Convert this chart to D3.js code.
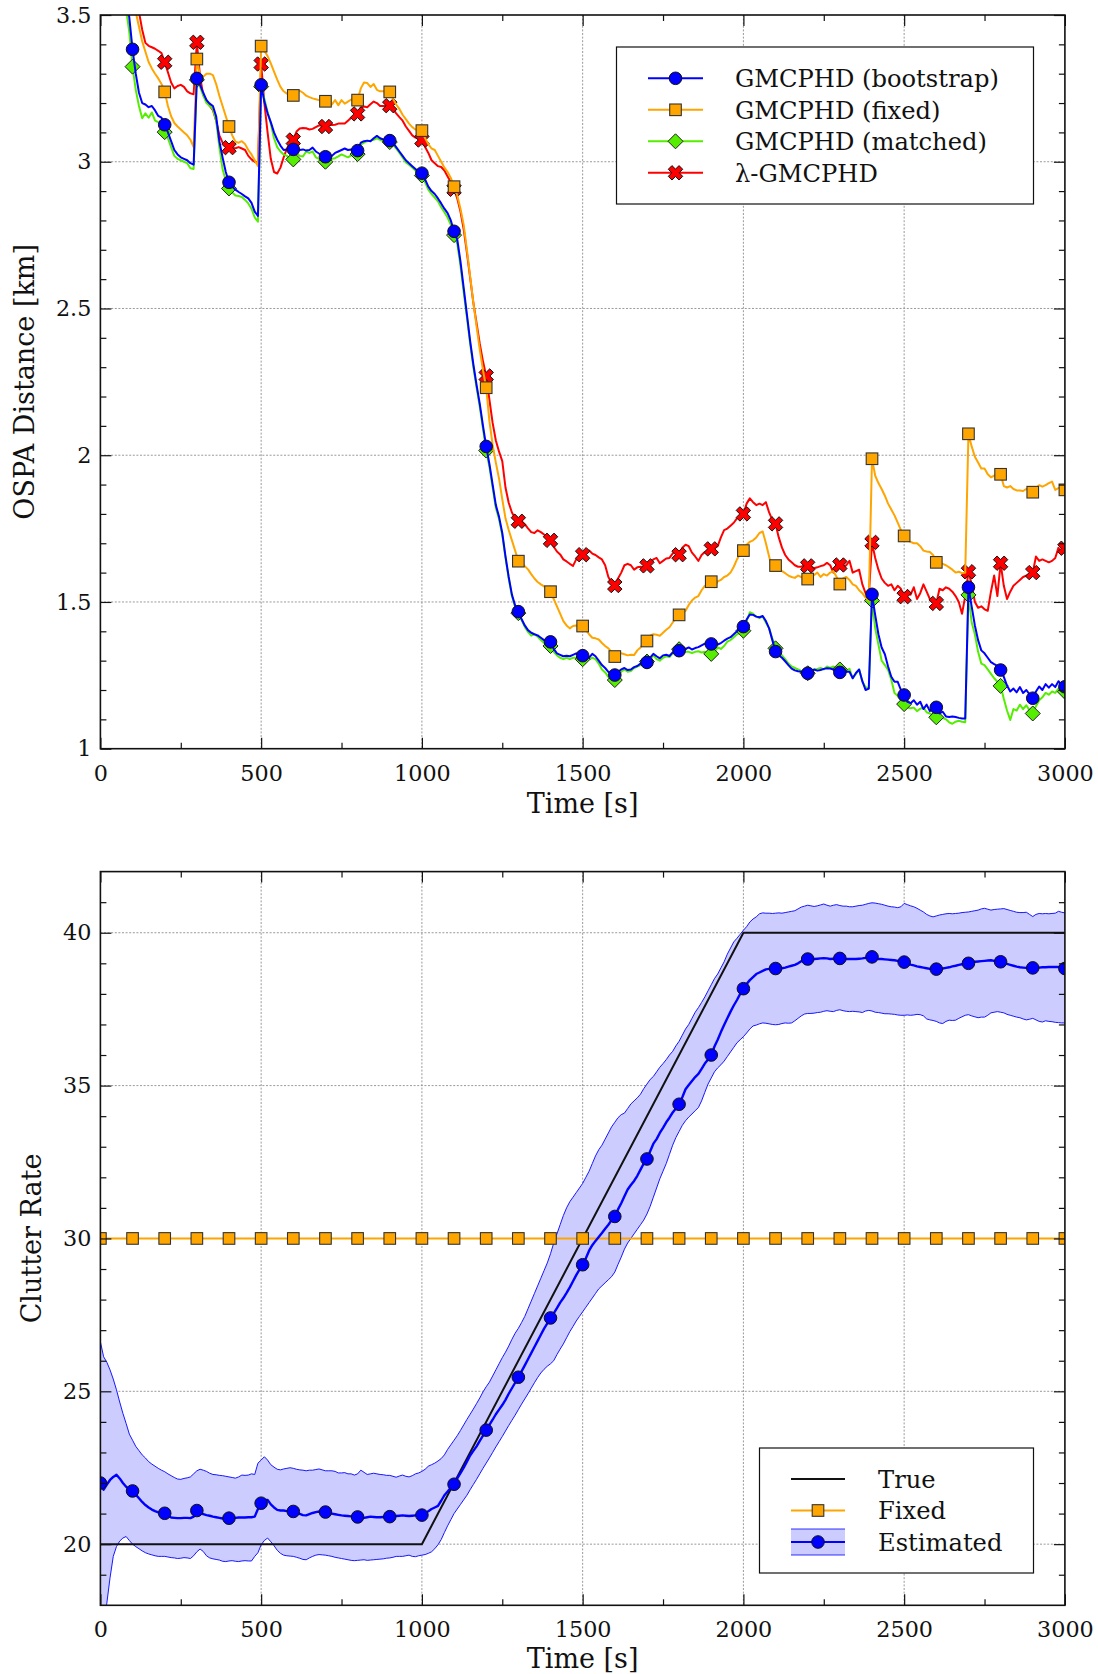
<!DOCTYPE html>
<html>
<head>
<meta charset="utf-8">
<script src="https://cdn.jsdelivr.net/npm/d3@7"></script>
<style>
  html, body { margin: 0; padding: 0; background: #fff; }
  svg { display: block; }
</style>
</head>
<body>
<svg id="chart" width="1098" height="1674"></svg>
<script>
// ---- time grid (s), one sample every 10 s; markers every 100 s ----
const times = d3.range(0, 3001, 10);
const xTickValues = [0, 500, 1000, 1500, 2000, 2500, 3000];

// ---- OSPA distance [km] ----
const ospaBootstrap = [
4.6,4.45,4.3,4.15,4.0,3.88,3.78,3.68,3.58,3.49,
3.383,3.30,3.235,3.20,3.195,3.186,3.19,3.175,3.156,3.15,
3.126,3.10,3.07,3.04,3.025,3.015,3.01,3.005,2.995,2.99,
3.284,3.262,3.235,3.21,3.198,3.19,3.155,3.07,3.015,2.965,
2.930,2.915,2.905,2.897,2.89,2.882,2.875,2.86,2.83,2.815,
3.262,3.205,3.165,3.135,3.10,3.075,3.055,3.04,3.042,3.04,
3.042,3.048,3.04,3.042,3.038,3.04,3.048,3.035,3.028,3.022,
3.017,3.012,3.02,3.03,3.035,3.04,3.045,3.04,3.042,3.04,
3.038,3.065,3.07,3.072,3.07,3.08,3.088,3.08,3.076,3.074,
3.072,3.065,3.05,3.035,3.02,3.005,2.995,2.985,2.975,2.968,
2.961,2.94,2.915,2.90,2.89,2.875,2.858,2.84,2.825,2.80,
2.763,2.735,2.66,2.57,2.48,2.39,2.31,2.24,2.175,2.10,
2.03,1.97,1.90,1.83,1.79,1.735,1.655,1.585,1.525,1.488,
1.467,1.442,1.42,1.404,1.395,1.39,1.386,1.378,1.37,1.366,
1.364,1.34,1.325,1.32,1.315,1.317,1.315,1.32,1.325,1.316,
1.317,1.31,1.31,1.323,1.315,1.30,1.285,1.275,1.262,1.255,
1.251,1.262,1.27,1.275,1.268,1.27,1.278,1.282,1.29,1.292,
1.294,1.31,1.323,1.315,1.308,1.318,1.32,1.316,1.328,1.33,
1.334,1.33,1.34,1.345,1.338,1.343,1.346,1.352,1.358,1.356,
1.357,1.353,1.355,1.36,1.368,1.375,1.38,1.39,1.40,1.41,
1.416,1.44,1.457,1.456,1.45,1.448,1.452,1.435,1.41,1.37,
1.331,1.318,1.31,1.298,1.285,1.273,1.267,1.264,1.262,1.259,
1.257,1.262,1.27,1.266,1.268,1.272,1.274,1.273,1.27,1.265,
1.26,1.257,1.262,1.262,1.24,1.258,1.27,1.23,1.20,1.205,
1.526,1.455,1.39,1.345,1.322,1.28,1.245,1.228,1.228,1.20,
1.183,1.16,1.155,1.165,1.15,1.16,1.135,1.15,1.128,1.14,
1.141,1.12,1.126,1.11,1.108,1.11,1.108,1.105,1.103,1.103,
1.55,1.485,1.42,1.37,1.335,1.325,1.31,1.295,1.288,1.282,
1.268,1.245,1.215,1.195,1.205,1.192,1.21,1.19,1.2,1.185,
1.172,1.195,1.212,1.2,1.22,1.208,1.22,1.21,1.23,1.215,
1.211];

const ospaFixed = [
5.0,4.8,4.6,4.4,4.2,4.05,3.9,3.78,3.68,3.6,
3.56,3.51,3.46,3.41,3.375,3.34,3.318,3.30,3.284,3.265,
3.238,3.19,3.155,3.132,3.12,3.11,3.10,3.09,3.075,3.05,
3.35,3.29,3.29,3.30,3.30,3.295,3.265,3.225,3.19,3.155,
3.12,3.09,3.068,3.065,3.07,3.06,3.04,3.025,3.005,2.985,
3.394,3.378,3.36,3.335,3.307,3.28,3.255,3.24,3.232,3.228,
3.226,3.24,3.242,3.235,3.225,3.22,3.216,3.213,3.21,3.208,
3.206,3.193,3.195,3.21,3.193,3.21,3.198,3.205,3.212,3.208,
3.21,3.25,3.27,3.268,3.255,3.265,3.245,3.24,3.24,3.238,
3.238,3.215,3.195,3.18,3.16,3.145,3.13,3.118,3.11,3.108,
3.106,3.08,3.06,3.045,3.04,3.02,3.0,2.98,2.965,2.945,
2.915,2.885,2.84,2.785,2.70,2.61,2.52,2.44,2.36,2.29,
2.23,2.116,2.035,1.975,1.92,1.85,1.785,1.745,1.71,1.675,
1.639,1.632,1.622,1.611,1.595,1.58,1.568,1.56,1.553,1.545,
1.535,1.51,1.485,1.46,1.435,1.42,1.41,1.418,1.42,1.418,
1.418,1.405,1.39,1.378,1.376,1.372,1.36,1.35,1.342,1.33,
1.314,1.33,1.325,1.322,1.318,1.32,1.319,1.335,1.345,1.358,
1.367,1.385,1.39,1.388,1.385,1.395,1.405,1.414,1.43,1.445,
1.456,1.462,1.47,1.49,1.505,1.515,1.52,1.54,1.555,1.56,
1.569,1.55,1.57,1.575,1.585,1.59,1.60,1.62,1.645,1.665,
1.675,1.695,1.705,1.71,1.72,1.735,1.74,1.70,1.655,1.61,
1.624,1.61,1.605,1.598,1.59,1.585,1.582,1.59,1.585,1.58,
1.578,1.585,1.592,1.60,1.585,1.595,1.59,1.60,1.605,1.585,
1.561,1.58,1.585,1.575,1.56,1.555,1.54,1.53,1.515,1.505,
1.988,1.93,1.905,1.885,1.862,1.835,1.815,1.795,1.77,1.745,
1.725,1.71,1.705,1.70,1.70,1.69,1.675,1.672,1.67,1.66,
1.635,1.635,1.63,1.625,1.618,1.61,1.60,1.603,1.598,1.60,
2.073,2.03,1.995,1.975,1.955,1.955,1.935,1.925,1.93,1.935,
1.935,1.895,1.89,1.895,1.885,1.88,1.88,1.878,1.885,1.88,
1.874,1.888,1.898,1.893,1.898,1.905,1.91,1.882,1.888,1.89,
1.882];

const ospaMatched = [
4.5,4.35,4.2,4.05,3.92,3.8,3.7,3.6,3.52,3.44,
3.324,3.245,3.19,3.148,3.165,3.15,3.168,3.14,3.135,3.12,
3.101,3.08,3.05,3.02,3.01,3.005,3.0,2.995,2.978,2.975,
3.279,3.255,3.225,3.2,3.19,3.18,3.14,3.05,2.975,2.935,
2.909,2.895,2.885,2.883,2.88,2.87,2.858,2.84,2.81,2.796,
3.256,3.215,3.17,3.13,3.08,3.05,3.035,3.025,3.02,3.012,
3.008,3.03,3.02,3.018,3.035,3.03,3.035,3.015,3.01,3.005,
3.0,3.005,3.01,3.012,3.018,3.025,3.02,3.015,3.022,3.024,
3.026,3.058,3.065,3.07,3.072,3.075,3.08,3.075,3.07,3.068,
3.067,3.058,3.045,3.03,3.015,2.998,2.99,2.98,2.97,2.962,
2.953,2.93,2.905,2.89,2.878,2.865,2.845,2.828,2.81,2.785,
2.75,2.72,2.645,2.555,2.47,2.38,2.30,2.23,2.165,2.09,
2.016,1.96,1.89,1.82,1.782,1.728,1.65,1.58,1.52,1.483,
1.462,1.438,1.415,1.398,1.385,1.39,1.382,1.37,1.36,1.355,
1.35,1.33,1.318,1.31,1.305,1.31,1.305,1.31,1.31,1.305,
1.305,1.3,1.305,1.31,1.305,1.29,1.27,1.26,1.245,1.24,
1.234,1.25,1.262,1.27,1.262,1.265,1.275,1.28,1.285,1.29,
1.297,1.305,1.318,1.305,1.3,1.31,1.315,1.312,1.325,1.332,
1.339,1.325,1.33,1.33,1.326,1.33,1.332,1.328,1.33,1.325,
1.323,1.33,1.345,1.34,1.35,1.365,1.37,1.38,1.39,1.395,
1.402,1.435,1.465,1.46,1.45,1.445,1.45,1.43,1.41,1.375,
1.342,1.33,1.318,1.305,1.29,1.28,1.275,1.27,1.265,1.26,
1.257,1.265,1.27,1.272,1.275,1.27,1.28,1.275,1.28,1.272,
1.27,1.262,1.265,1.272,1.24,1.255,1.27,1.228,1.21,1.205,
1.505,1.41,1.355,1.30,1.285,1.268,1.235,1.19,1.18,1.165,
1.152,1.14,1.138,1.14,1.128,1.136,1.14,1.124,1.12,1.115,
1.107,1.1,1.105,1.1,1.09,1.085,1.092,1.095,1.092,1.09,
1.524,1.43,1.39,1.33,1.29,1.285,1.27,1.255,1.24,1.228,
1.214,1.17,1.13,1.098,1.135,1.13,1.15,1.135,1.148,1.13,
1.12,1.145,1.165,1.175,1.19,1.184,1.195,1.19,1.205,1.198,
1.194];

const ospaLambda = [
5.2,5.0,4.8,4.6,4.4,4.2,4.05,3.9,3.78,3.68,
3.62,3.56,3.51,3.45,3.405,3.395,3.39,3.385,3.378,3.37,
3.339,3.305,3.27,3.25,3.258,3.262,3.255,3.24,3.233,3.23,
3.407,3.29,3.227,3.21,3.19,3.176,3.14,3.09,3.065,3.055,
3.048,3.047,3.046,3.05,3.045,3.04,3.02,3.008,3.0,2.995,
3.333,3.20,3.10,3.01,2.965,2.96,2.98,3.015,3.045,3.062,
3.074,3.103,3.113,3.115,3.114,3.11,3.112,3.118,3.124,3.122,
3.12,3.124,3.125,3.126,3.13,3.13,3.13,3.14,3.15,3.157,
3.163,3.185,3.188,3.186,3.196,3.205,3.20,3.19,3.19,3.19,
3.191,3.18,3.165,3.152,3.14,3.12,3.105,3.09,3.082,3.078,
3.074,3.05,3.03,3.005,2.995,2.985,2.982,2.97,2.95,2.93,
2.906,2.875,2.83,2.77,2.69,2.605,2.52,2.45,2.38,2.32,
2.27,2.189,2.11,2.05,2.012,1.98,1.89,1.838,1.805,1.785,
1.775,1.775,1.765,1.751,1.738,1.735,1.744,1.738,1.73,1.72,
1.71,1.688,1.672,1.662,1.645,1.638,1.63,1.623,1.645,1.66,
1.661,1.672,1.675,1.665,1.66,1.652,1.645,1.625,1.585,1.565,
1.556,1.58,1.60,1.625,1.63,1.625,1.61,1.618,1.62,1.618,
1.623,1.635,1.645,1.65,1.632,1.64,1.648,1.65,1.665,1.675,
1.661,1.685,1.695,1.69,1.668,1.655,1.64,1.66,1.67,1.675,
1.681,1.683,1.69,1.72,1.745,1.75,1.76,1.77,1.785,1.79,
1.80,1.835,1.853,1.84,1.83,1.835,1.83,1.84,1.805,1.78,
1.766,1.72,1.685,1.66,1.645,1.635,1.625,1.62,1.62,1.625,
1.623,1.62,1.615,1.618,1.622,1.625,1.633,1.625,1.60,1.63,
1.626,1.62,1.625,1.64,1.60,1.605,1.61,1.56,1.53,1.52,
1.703,1.65,1.61,1.58,1.565,1.555,1.56,1.54,1.555,1.545,
1.518,1.54,1.525,1.55,1.51,1.53,1.56,1.535,1.51,1.50,
1.495,1.545,1.54,1.55,1.545,1.535,1.52,1.50,1.46,1.52,
1.603,1.56,1.50,1.48,1.485,1.475,1.47,1.535,1.59,1.52,
1.632,1.555,1.51,1.535,1.555,1.565,1.575,1.585,1.59,1.595,
1.60,1.655,1.64,1.645,1.64,1.635,1.64,1.65,1.685,1.665,
1.683];

// ---- clutter rate ----
const trueTimes = [0, 1000, 2000, 3000];
const trueRate = [20, 20, 40, 40];
const fixedTimes = d3.range(0, 3001, 100);
const fixedRate = [30,30,30,30,30,30,30,30,30,30,30,30,30,30,30,30,
                   30,30,30,30,30,30,30,30,30,30,30,30,30,30,30];

const meanRate = [
22.0,21.78,21.95,22.1,22.2,22.27,22.15,22.0,21.88,21.8,
21.74,21.62,21.5,21.38,21.28,21.2,21.13,21.08,21.04,21.02,
21.01,20.93,20.87,20.86,20.85,20.85,20.86,20.86,20.85,20.9,
21.1,21.05,20.98,20.95,20.93,20.9,20.88,20.86,20.84,20.84,
20.85,20.85,20.86,20.87,20.87,20.87,20.88,20.88,20.9,21.15,
21.34,21.45,21.45,21.3,21.2,21.12,21.1,21.1,21.08,21.07,
21.07,21.03,20.99,20.95,20.94,20.98,21.02,21.05,21.07,21.06,
21.05,21.02,21.0,20.98,20.96,20.94,20.93,20.92,20.91,20.9,
20.89,20.87,20.86,20.88,20.9,20.89,20.88,20.88,20.89,20.9,
20.9,20.91,20.92,20.93,20.94,20.93,20.92,20.93,20.94,20.95,
20.95,21.0,21.08,21.15,21.2,21.25,21.42,21.6,21.72,21.85,
21.96,22.15,22.32,22.5,22.7,22.9,23.05,23.2,23.38,23.55,
23.73,23.9,24.07,24.25,24.4,24.55,24.72,24.92,25.1,25.28,
25.46,25.65,25.85,26.05,26.25,26.45,26.65,26.85,27.05,27.22,
27.4,27.55,27.72,27.9,28.05,28.22,28.4,28.6,28.8,28.98,
29.14,29.35,29.6,29.78,29.92,30.05,30.18,30.32,30.45,30.6,
30.72,30.95,31.15,31.38,31.6,31.75,31.88,32.05,32.25,32.45,
32.6,32.85,33.1,33.25,33.45,33.62,33.8,33.95,34.12,34.25,
34.39,34.62,34.88,35.02,35.15,35.28,35.38,35.55,35.72,35.85,
36.0,36.28,36.5,36.75,36.98,37.2,37.42,37.62,37.8,38.0,
38.17,38.32,38.45,38.55,38.65,38.7,38.75,38.8,38.82,38.83,
38.83,38.84,38.84,38.86,38.89,38.92,38.95,39.0,39.07,39.12,
39.14,39.15,39.14,39.15,39.16,39.17,39.16,39.14,39.15,39.16,
39.16,39.15,39.14,39.14,39.14,39.14,39.15,39.16,39.18,39.2,
39.21,39.17,39.14,39.14,39.13,39.12,39.11,39.1,39.08,39.06,
39.04,39.0,38.96,38.93,38.9,38.88,38.86,38.84,38.82,38.81,
38.81,38.82,38.83,38.85,38.87,38.9,38.92,38.95,38.97,38.99,
39.0,39.03,39.05,39.06,39.07,39.08,39.09,39.1,39.08,39.07,
39.05,39.02,38.98,38.95,38.92,38.89,38.87,38.86,38.85,38.85,
38.85,38.86,38.86,38.87,38.87,38.88,38.88,38.88,38.88,38.86,
38.83];

const upperRate = [
26.62,26.13,25.95,25.7,25.4,25.05,24.65,24.28,23.95,23.6,
23.4,23.2,23.06,22.92,22.82,22.7,22.62,22.55,22.48,22.42,
22.37,22.3,22.24,22.18,22.13,22.12,22.15,22.17,22.2,22.3,
22.4,22.45,22.42,22.38,22.32,22.28,22.27,22.25,22.24,22.22,
22.2,22.18,22.16,22.2,22.26,22.25,22.26,22.3,22.28,22.65,
22.75,22.86,22.75,22.6,22.52,22.45,22.43,22.46,22.48,22.5,
22.48,22.45,22.43,22.42,22.4,22.42,22.42,22.44,22.46,22.43,
22.4,22.4,22.4,22.38,22.33,22.33,22.34,22.3,22.3,22.26,
22.3,22.42,22.35,22.28,22.3,22.32,22.3,22.28,22.27,22.25,
22.25,22.22,22.19,22.23,22.26,22.22,22.2,22.24,22.3,22.33,
22.38,22.45,22.55,22.6,22.65,22.72,22.8,22.92,23.1,23.25,
23.4,23.55,23.72,23.9,24.08,24.25,24.42,24.6,24.78,24.98,
25.15,25.3,25.5,25.7,25.9,26.1,26.28,26.48,26.7,26.9,
27.06,27.25,27.45,27.7,27.95,28.2,28.45,28.7,28.95,29.2,
29.5,29.85,30.15,30.45,30.75,31.0,31.2,31.35,31.5,31.65,
31.8,32.0,32.2,32.45,32.7,32.9,33.05,33.25,33.45,33.65,
33.8,33.95,34.05,34.1,34.25,34.4,34.5,34.6,34.72,34.9,
35.05,35.2,35.3,35.45,35.6,35.72,35.85,36.0,36.12,36.3,
36.45,36.65,36.85,37.0,37.2,37.4,37.55,37.72,37.9,38.1,
38.3,38.5,38.65,38.85,39.05,39.3,39.5,39.7,39.82,39.95,
40.08,40.2,40.35,40.45,40.52,40.62,40.65,40.64,40.64,40.63,
40.64,40.65,40.64,40.66,40.68,40.7,40.72,40.78,40.84,40.87,
40.9,40.88,40.86,40.88,40.91,40.94,40.9,40.87,40.9,40.92,
40.89,40.87,40.87,40.85,40.85,40.87,40.89,40.9,40.93,40.96,
40.98,40.97,40.95,40.93,40.9,40.87,40.85,40.84,40.82,40.85,
40.96,40.92,40.88,40.85,40.8,40.74,40.68,40.6,40.55,40.52,
40.55,40.58,40.6,40.62,40.63,40.62,40.63,40.64,40.66,40.67,
40.68,40.7,40.72,40.74,40.78,40.8,40.77,40.74,40.76,40.77,
40.78,40.79,40.76,40.73,40.7,40.67,40.66,40.66,40.67,40.6,
40.53,40.6,40.63,40.62,40.63,40.62,40.63,40.64,40.7,40.67,
40.65];

const lowerRate = [
16.5,17.3,18.07,18.9,19.6,19.92,20.1,20.2,20.25,20.12,
20.0,19.92,19.85,19.78,19.72,19.68,19.65,19.62,19.6,19.6,
19.6,19.58,19.56,19.55,19.53,19.54,19.56,19.55,19.53,19.62,
19.75,19.84,19.76,19.62,19.55,19.52,19.5,19.48,19.44,19.43,
19.45,19.46,19.44,19.43,19.45,19.46,19.45,19.45,19.6,19.72,
19.98,20.12,20.2,20.08,19.95,19.8,19.7,19.64,19.62,19.61,
19.6,19.57,19.54,19.5,19.49,19.55,19.6,19.64,19.66,19.65,
19.64,19.62,19.6,19.57,19.55,19.53,19.51,19.49,19.47,19.46,
19.47,19.48,19.49,19.47,19.48,19.49,19.5,19.51,19.52,19.54,
19.55,19.57,19.6,19.6,19.6,19.62,19.64,19.6,19.59,19.62,
19.64,19.66,19.7,19.75,19.85,19.98,20.15,20.38,20.6,20.8,
21.0,21.15,21.3,21.45,21.6,21.78,21.95,22.12,22.3,22.48,
22.65,22.82,23.0,23.18,23.35,23.52,23.7,23.88,24.05,24.22,
24.4,24.58,24.75,24.92,25.1,25.28,25.45,25.6,25.72,25.82,
25.9,26.0,26.2,26.38,26.55,26.75,26.95,27.12,27.3,27.45,
27.6,27.75,27.9,28.05,28.2,28.35,28.45,28.55,28.65,28.75,
28.9,29.15,29.39,29.65,29.85,30.0,30.15,30.3,30.45,30.6,
30.8,31.05,31.35,31.65,31.95,32.2,32.45,32.75,33.05,33.3,
33.5,33.7,33.85,33.97,34.07,34.18,34.28,34.5,34.78,35.05,
35.25,35.45,35.58,35.68,35.8,35.95,36.1,36.25,36.4,36.5,
36.6,36.72,36.85,36.95,36.98,37.02,37.05,37.04,37.02,37.0,
36.99,37.0,37.03,37.05,37.04,37.05,37.12,37.2,37.28,37.34,
37.36,37.36,37.37,37.39,37.4,37.43,37.45,37.43,37.42,37.46,
37.48,37.45,37.43,37.42,37.43,37.42,37.41,37.39,37.44,37.46,
37.44,37.4,37.39,37.37,37.35,37.35,37.34,37.33,37.31,37.3,
37.3,37.31,37.3,37.31,37.33,37.32,37.28,37.18,37.15,37.13,
37.1,37.05,37.03,37.1,37.14,37.13,37.14,37.2,37.25,37.3,
37.32,37.28,37.25,37.22,37.24,37.24,37.3,37.38,37.4,37.42,
37.4,37.38,37.33,37.3,37.27,37.24,37.22,37.18,37.15,37.17,
37.2,37.15,37.1,37.08,37.12,37.1,37.09,37.07,37.06,37.05,
37.05];

// ---- layout ----
const W = 1098, H = 1674;
const FONT = "'DejaVu Serif', 'Liberation Serif', serif";
const TICK_FONT = 22.3, LEGEND_FONT = 24.2, TITLE_FONT = 27;
const plotLeft = 100.4, plotRight = 1064.9;
const topPanel = { top: 15, bottom: 748.7 };
const botPanel = { top: 871.6, bottom: 1605.3 };

const COL = {
  blue: '#0000ff', orange: '#ffa500', green: '#55ee00', red: '#ff0000',
  band: '#ccccff', grid: '#9a9a9a'
};

const svg = d3.select('#chart');
svg.append('rect').attr('width', W).attr('height', H).attr('fill', '#fff');

const x = d3.scaleLinear().domain([0, 3000]).range([plotLeft, plotRight]);
const yOspa = d3.scaleLinear().domain([1, 3.5]).range([topPanel.bottom, topPanel.top]);
const yRate = d3.scaleLinear().domain([18, 42]).range([botPanel.bottom, botPanel.top]);

// ---- marker shapes ----
function xMarkPoints(L, w) {
  const pts = [[-w,-L],[w,-L],[w,-w],[L,-w],[L,w],[w,w],[w,L],[-w,L],[-w,w],[-L,w],[-L,-w],[-w,-w]];
  const c = Math.SQRT1_2;
  return pts.map(([a, b]) => [(a - b) * c, (a + b) * c].map(v => v.toFixed(2)).join(',')).join(' ');
}
function drawMarker(g, kind, cx, cy, fill) {
  if (kind === 'circle') {
    g.append('circle').attr('cx', cx).attr('cy', cy).attr('r', 6.3)
      .attr('fill', fill).attr('stroke', '#111').attr('stroke-width', 1);
  } else if (kind === 'square') {
    g.append('rect').attr('x', cx - 5.8).attr('y', cy - 5.8).attr('width', 11.6).attr('height', 11.6)
      .attr('fill', fill).attr('stroke', '#333').attr('stroke-width', 1.1);
  } else if (kind === 'diamond') {
    g.append('path').attr('d', `M${cx},${cy-7.5}L${cx+7.5},${cy}L${cx},${cy+7.5}L${cx-7.5},${cy}Z`)
      .attr('fill', fill).attr('stroke', '#222').attr('stroke-width', 1);
  } else if (kind === 'x') {
    g.append('polygon').attr('points', xMarkPoints(7.6, 2.6))
      .attr('transform', `translate(${cx},${cy})`)
      .attr('fill', fill).attr('stroke', '#111').attr('stroke-width', 1);
  }
}

// ---- grid and clip region ----
function drawGrid(panel, y, yMajor, clipId) {
  const g = svg.append('g');
  g.append('g').selectAll('line').data(xTickValues.slice(1, -1)).join('line')
    .attr('x1', d => x(d)).attr('x2', d => x(d))
    .attr('y1', panel.top).attr('y2', panel.bottom)
    .attr('stroke', COL.grid).attr('stroke-width', 1).attr('stroke-dasharray', '2,1.6');
  g.append('g').selectAll('line').data(yMajor.slice(1, -1)).join('line')
    .attr('x1', plotLeft).attr('x2', plotRight)
    .attr('y1', d => y(d)).attr('y2', d => y(d))
    .attr('stroke', COL.grid).attr('stroke-width', 1).attr('stroke-dasharray', '2,1.6');

  svg.append('defs').append('clipPath').attr('id', clipId)
    .append('rect').attr('x', plotLeft).attr('y', panel.top)
    .attr('width', plotRight - plotLeft).attr('height', panel.bottom - panel.top);
}

// ---- frame and inward ticks on all four sides ----
function drawAxes(panel, y, yMajor, yMinor, yFmt) {
  const g = svg.append('g');
  const style = sel => {
    sel.select('.domain').remove();
    sel.attr('font-family', FONT).attr('font-size', TICK_FONT);
    sel.selectAll('line').attr('stroke', '#111').attr('stroke-width', 1.2);
    sel.selectAll('text').attr('fill', '#111');
  };
  const xMinor = [250, 750, 1250, 1750, 2250, 2750];
  g.append('g').attr('transform', `translate(0,${panel.bottom})`)
    .call(d3.axisBottom(x).tickValues(xTickValues).tickSize(-11).tickPadding(16).tickFormat(d3.format('d'))).call(style);
  g.append('g').attr('transform', `translate(0,${panel.bottom})`)
    .call(d3.axisBottom(x).tickValues(xMinor).tickSize(-6).tickFormat('')).call(style);
  g.append('g').attr('transform', `translate(0,${panel.top})`)
    .call(d3.axisTop(x).tickValues(xTickValues).tickSize(-11).tickFormat('')).call(style);
  g.append('g').attr('transform', `translate(0,${panel.top})`)
    .call(d3.axisTop(x).tickValues(xMinor).tickSize(-6).tickFormat('')).call(style);
  g.append('g').attr('transform', `translate(${plotLeft},0)`)
    .call(d3.axisLeft(y).tickValues(yMajor).tickSize(-11).tickPadding(9).tickFormat(yFmt)).call(style);
  g.append('g').attr('transform', `translate(${plotLeft},0)`)
    .call(d3.axisLeft(y).tickValues(yMinor).tickSize(-6).tickFormat('')).call(style);
  g.append('g').attr('transform', `translate(${plotRight},0)`)
    .call(d3.axisRight(y).tickValues(yMajor).tickSize(-11).tickFormat('')).call(style);
  g.append('g').attr('transform', `translate(${plotRight},0)`)
    .call(d3.axisRight(y).tickValues(yMinor).tickSize(-6).tickFormat('')).call(style);
  g.append('rect').attr('x', plotLeft).attr('y', panel.top)
    .attr('width', plotRight - plotLeft).attr('height', panel.bottom - panel.top)
    .attr('fill', 'none').attr('stroke', '#111').attr('stroke-width', 1.6);
}

function axisTitles(panel, xTitleY, yTitleX, yTitle) {
  svg.append('text').attr('x', x(1500)).attr('y', xTitleY)
    .attr('text-anchor', 'middle').attr('font-family', FONT).attr('font-size', TITLE_FONT).attr('fill', '#111')
    .text('Time [s]');
  const cy = (panel.top + panel.bottom) / 2;
  svg.append('text').attr('transform', `translate(${yTitleX},${cy}) rotate(-90)`)
    .attr('text-anchor', 'middle').attr('font-family', FONT).attr('font-size', TITLE_FONT).attr('fill', '#111')
    .text(yTitle);
}

// ================= top panel: OSPA distance =================
const ospaMajor = [1, 1.5, 2, 2.5, 3, 3.5];
const ospaMinor = d3.range(11, 35).filter(v => v % 5 !== 0).map(v => v / 10);
drawGrid(topPanel, yOspa, ospaMajor, 'clipTop');

const ospaSeries = [
  { name: 'GMCPHD (bootstrap)', values: ospaBootstrap, color: COL.blue, marker: 'circle' },
  { name: 'GMCPHD (fixed)', values: ospaFixed, color: COL.orange, marker: 'square' },
  { name: 'GMCPHD (matched)', values: ospaMatched, color: COL.green, marker: 'diamond' },
  { name: 'λ-GMCPHD', values: ospaLambda, color: COL.red, marker: 'x' }
];

const topData = svg.append('g').attr('clip-path', 'url(#clipTop)');
const ospaLine = d3.line().x((d, i) => x(times[i])).y(d => yOspa(d));
ospaSeries.slice().reverse().forEach(s => {
  topData.append('path').datum(s.values).attr('d', ospaLine)
    .attr('fill', 'none').attr('stroke', s.color).attr('stroke-width', 2).attr('stroke-linejoin', 'round');
  const mg = topData.append('g');
  s.values.forEach((v, i) => {
    if (i % 10 === 0) drawMarker(mg, s.marker, x(times[i]), yOspa(v), s.color);
  });
});

drawAxes(topPanel, yOspa, ospaMajor, ospaMinor, d3.format('~g'));
axisTitles(topPanel, 813, 34, 'OSPA Distance [km]');

// legend (top)
const lg1 = svg.append('g');
lg1.append('rect').attr('x', 616.5).attr('y', 47).attr('width', 417).attr('height', 157)
  .attr('fill', '#fff').attr('stroke', '#111').attr('stroke-width', 1.2);
ospaSeries.forEach((s, i) => {
  const cy = 78.3 + i * 31.5;
  lg1.append('line').attr('x1', 648).attr('x2', 703).attr('y1', cy).attr('y2', cy)
    .attr('stroke', s.color).attr('stroke-width', 2);
  drawMarker(lg1, s.marker, 675.5, cy, s.color);
  lg1.append('text').attr('x', 735).attr('y', cy + 8.8)
    .attr('font-family', FONT).attr('font-size', LEGEND_FONT).attr('fill', '#111').text(s.name);
});

// ================= bottom panel: clutter rate =================
const rateMajor = [20, 25, 30, 35, 40];
const rateMinor = d3.range(19, 42).filter(v => v % 5 !== 0);
drawGrid(botPanel, yRate, [18].concat(rateMajor, [42]), 'clipBot');

const botData = svg.append('g').attr('clip-path', 'url(#clipBot)');
const band = d3.area().x((d, i) => x(times[i])).y0((d, i) => yRate(lowerRate[i])).y1(d => yRate(d));
botData.append('path').datum(upperRate).attr('d', band).attr('fill', COL.band);
const rateLine = d3.line().x((d, i) => x(times[i])).y(d => yRate(d));
[upperRate, lowerRate].forEach(arr => {
  botData.append('path').datum(arr).attr('d', rateLine)
    .attr('fill', 'none').attr('stroke', COL.blue).attr('stroke-width', 1).attr('stroke-opacity', 0.9);
});
// true clutter rate
botData.append('path').datum(trueRate)
  .attr('d', d3.line().x((d, i) => x(trueTimes[i])).y(d => yRate(d)))
  .attr('fill', 'none').attr('stroke', '#111').attr('stroke-width', 2);
// fixed clutter rate
botData.append('path').datum(fixedRate)
  .attr('d', d3.line().x((d, i) => x(fixedTimes[i])).y(d => yRate(d)))
  .attr('fill', 'none').attr('stroke', COL.orange).attr('stroke-width', 2);
const fg = botData.append('g');
fixedRate.forEach((v, i) => drawMarker(fg, 'square', x(fixedTimes[i]), yRate(v), COL.orange));
// estimated clutter rate
botData.append('path').datum(meanRate).attr('d', rateLine)
  .attr('fill', 'none').attr('stroke', COL.blue).attr('stroke-width', 2.4).attr('stroke-linejoin', 'round');
const eg = botData.append('g');
meanRate.forEach((v, i) => {
  if (i % 10 === 0) drawMarker(eg, 'circle', x(times[i]), yRate(v), COL.blue);
});

drawAxes(botPanel, yRate, rateMajor, rateMinor, d3.format('d'));
axisTitles(botPanel, 1668, 41, 'Clutter Rate');

// legend (bottom)
const lg2 = svg.append('g');
lg2.append('rect').attr('x', 759.5).attr('y', 1448).attr('width', 274).attr('height', 125)
  .attr('fill', '#fff').attr('stroke', '#111').attr('stroke-width', 1.2);
const rows = [1479, 1510.5, 1542];
lg2.append('line').attr('x1', 791).attr('x2', 845).attr('y1', rows[0]).attr('y2', rows[0])
  .attr('stroke', '#111').attr('stroke-width', 2);
lg2.append('line').attr('x1', 791).attr('x2', 845).attr('y1', rows[1]).attr('y2', rows[1])
  .attr('stroke', COL.orange).attr('stroke-width', 2);
drawMarker(lg2, 'square', 818, rows[1], COL.orange);
lg2.append('rect').attr('x', 791).attr('y', rows[2] - 13).attr('width', 54).attr('height', 26)
  .attr('fill', COL.band);
[rows[2] - 13, rows[2] + 13].forEach(yy => {
  lg2.append('line').attr('x1', 791).attr('x2', 845).attr('y1', yy).attr('y2', yy)
    .attr('stroke', COL.blue).attr('stroke-width', 1.2).attr('stroke-opacity', 0.8);
});
lg2.append('line').attr('x1', 791).attr('x2', 845).attr('y1', rows[2]).attr('y2', rows[2])
  .attr('stroke', COL.blue).attr('stroke-width', 2);
drawMarker(lg2, 'circle', 818, rows[2], COL.blue);
['True', 'Fixed', 'Estimated'].forEach((t, i) => {
  lg2.append('text').attr('x', 878).attr('y', rows[i] + 8.8)
    .attr('font-family', FONT).attr('font-size', LEGEND_FONT).attr('fill', '#111').text(t);
});
</script>
</body>
</html>
